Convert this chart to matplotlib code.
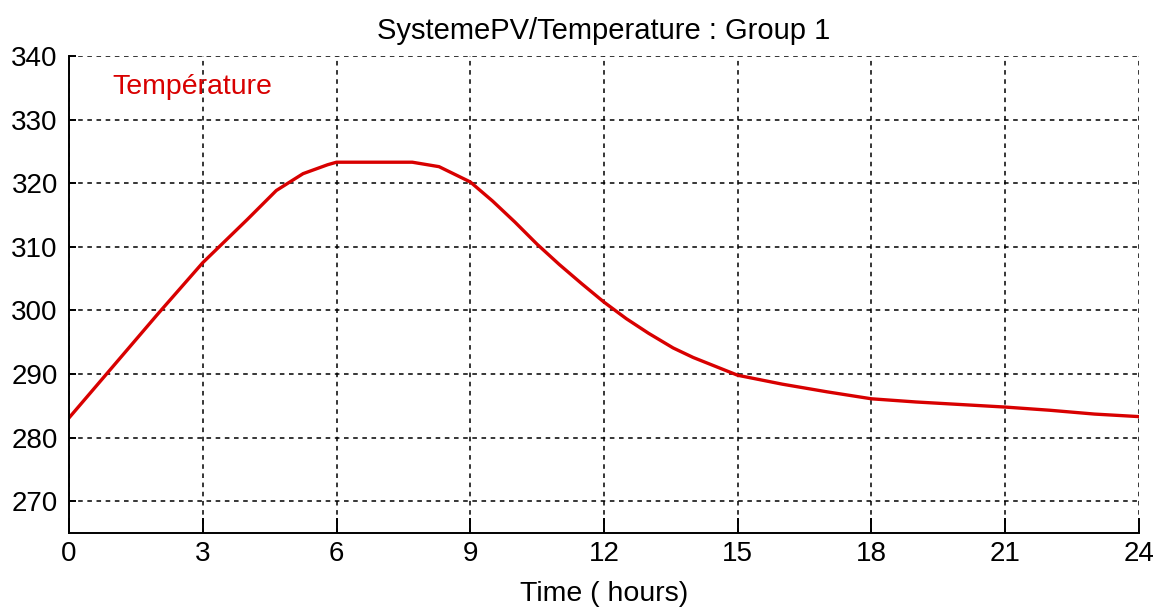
import numpy as np
import matplotlib.pyplot as plt

plt.rcParams['font.family'] = ['Liberation Sans', 'DejaVu Sans']

# temperature (K) against time (hours)
hours = [0, 1, 2, 3, 4, 4.65, 5.25, 5.8, 6, 7, 7.7, 8.3, 9, 9.5, 10, 10.5, 11, 11.5, 12, 12.5, 13, 13.55, 14,
         15, 16, 17, 18, 19, 20, 21, 22, 23, 24]
temperature = [283.1, 291.3, 299.5, 307.5, 314.3, 318.85, 321.5, 322.9, 323.3, 323.3, 323.3, 322.6, 320.2,
               317.2, 313.9, 310.4, 307.2, 304.2, 301.3, 298.7, 296.4, 294.1, 292.6,
               289.8, 288.4, 287.2, 286.1, 285.6, 285.2, 284.8, 284.3, 283.7, 283.3]

xticks = np.arange(0, 25, 3)
yticks = np.arange(270, 341, 10)

fig = plt.figure(figsize=(11.71, 6.08), dpi=100)
ax = fig.add_axes([69 / 1171, 1 - 533 / 608, (1139 - 69) / 1171, (533 - 56) / 608])

ax.plot(hours, temperature, color='#d80000', lw=2.4)

ax.set_xlim(0, 24)
ax.set_ylim(265, 340)
ax.set_xticks(xticks)
ax.set_yticks(yticks)
ax.grid(True, color='black', linestyle=(0, (3, 3)), lw=1.1)

for side in ['top', 'right']:
    ax.spines[side].set_visible(False)
for side in ['left', 'bottom']:
    ax.spines[side].set_linewidth(1.4)
ax.tick_params(direction='in', width=1.4, labelsize=20, colors='black')
ax.tick_params(axis='x', length=11, pad=6)
ax.tick_params(axis='y', length=5, pad=8)

ax.set_title('SystemePV/Temperature : Group 1', fontsize=21, pad=12)
ax.set_xlabel('Time ( hours)', fontsize=20.5, labelpad=10)
ax.text(0.041, 0.935, 'Température', color='#d80000', fontsize=20.5, transform=ax.transAxes, va='center')

fig.savefig('out.png', dpi=100)
